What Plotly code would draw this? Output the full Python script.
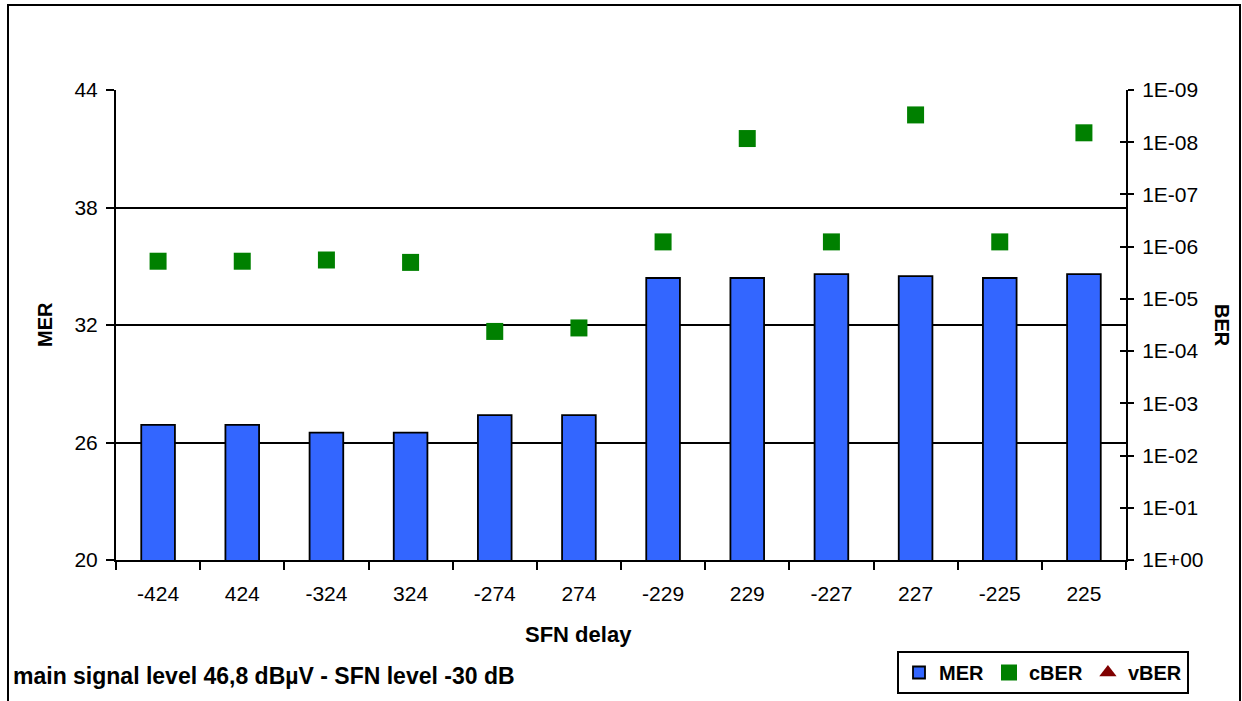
import plotly.graph_objects as go

# SFN delay categories and measurements
delays = ["-424", "424", "-324", "324", "-274", "274",
          "-229", "229", "-227", "227", "-225", "225"]
mer = [26.9, 26.9, 26.5, 26.5, 27.4, 27.4,
       34.4, 34.4, 34.6, 34.5, 34.4, 34.6]
cber = [1.9e-6, 1.9e-6, 1.8e-6, 2.0e-6, 4.2e-5, 3.6e-5,
        8.1e-7, 8.5e-9, 8.1e-7, 3.0e-9, 8.1e-7, 6.6e-9]
vber = [None] * len(delays)

mer_ticks = [20, 26, 32, 38, 44]
ber_tickvals = [1e-9, 1e-8, 1e-7, 1e-6, 1e-5, 1e-4, 1e-3, 1e-2, 1e-1, 1e0]
ber_ticktext = ["1E-09", "1E-08", "1E-07", "1E-06", "1E-05",
                "1E-04", "1E-03", "1E-02", "1E-01", "1E+00"]

W, H = 1242, 701
ML, MR, MT, MB = 116, 116, 90, 141
PW, PH = W - ML - MR, H - MT - MB

FONT = "Liberation Sans, Arial, sans-serif"

fig = go.Figure()

fig.add_trace(go.Bar(
    x=delays, y=mer, name="MER", width=0.4,
    marker=dict(color="#3366FF", line=dict(color="black", width=1.8)),
    yaxis="y",
))
fig.add_trace(go.Scatter(
    x=delays, y=cber, name="cBER", mode="markers",
    marker=dict(symbol="square", size=17, color="#008000"),
    yaxis="y2",
))
fig.add_trace(go.Scatter(
    x=delays, y=vber, name="vBER", mode="markers",
    marker=dict(symbol="triangle-up", size=15, color="#800000"),
    yaxis="y3",
))

fig.update_layout(
    width=W, height=H,
    margin=dict(l=ML, r=MR, t=MT, b=MB),
    paper_bgcolor="white", plot_bgcolor="white",
    font=dict(family=FONT, size=21, color="black"),
    showlegend=True,
    xaxis=dict(
        type="category", range=[-0.5, len(delays) - 0.5],
        tickson="boundaries", ticks="outside", ticklen=8,
        tickcolor="black", tickwidth=1.8, showline=True, linecolor="black",
        linewidth=2, showgrid=False, ticklabelstandoff=14,
        tickfont=dict(size=21),
    ),
    yaxis=dict(
        range=[20, 44], tickvals=mer_ticks, ticks="outside", ticklen=8,
        tickcolor="black", tickwidth=1.8, showline=True, linecolor="black",
        linewidth=2, showgrid=True, gridcolor="black", gridwidth=1.6,
        zeroline=False, tickfont=dict(size=21), ticklabelstandoff=4,
    ),
    yaxis2=dict(
        type="log", range=[0, -9], overlaying="y", side="right",
        tickvals=ber_tickvals, ticktext=ber_ticktext, ticks="outside",
        ticklen=6, tickcolor="black", tickwidth=1.8, showline=True,
        linecolor="black", linewidth=2, showgrid=False, zeroline=False,
        tickfont=dict(size=21), ticklabelstandoff=4,
    ),
    yaxis3=dict(
        type="log", range=[0, -9], overlaying="y", side="right",
        tickvals=ber_tickvals, ticks="inside", ticklen=6, tickcolor="black",
        tickwidth=1.8, showticklabels=False, showline=False, showgrid=False,
        zeroline=False,
    ),
    legend=dict(
        orientation="h", xref="container", yref="container",
        x=1189 / W, y=1 - 651 / H, xanchor="right", yanchor="top",
        bordercolor="black", borderwidth=2, bgcolor="white",
        font=dict(size=20, weight="bold"), itemwidth=30,
        tracegroupgap=0,
    ),
)

def px_x(px):
    return (px - ML) / PW

def px_y(py):
    return 1 - (py - MT) / PH

fig.add_annotation(text="<b>SFN delay</b>", xref="paper", yref="paper",
                   x=px_x(578), y=px_y(634), xanchor="center",
                   yanchor="middle", showarrow=False, font=dict(size=22))
fig.add_annotation(text="<b>MER</b>", xref="paper", yref="paper",
                   x=px_x(45), y=px_y(325), xanchor="center",
                   yanchor="middle", showarrow=False, textangle=-90,
                   font=dict(size=20))
fig.add_annotation(text="<b>BER</b>", xref="paper", yref="paper",
                   x=px_x(1222), y=px_y(325), xanchor="center",
                   yanchor="middle", showarrow=False, textangle=90,
                   font=dict(size=20))
fig.add_annotation(text="<b>main signal level 46,8 dBµV - SFN level -30 dB</b>",
                   xref="paper", yref="paper", x=px_x(11), y=px_y(676),
                   xanchor="left", yanchor="middle", showarrow=False,
                   font=dict(size=23))

# outer frame around the chart
fig.add_shape(type="rect", xref="paper", yref="paper",
              x0=px_x(8), x1=px_x(1240), y0=px_y(720), y1=px_y(5),
              line=dict(color="black", width=2), layer="above")

fig.write_html("out.html")
